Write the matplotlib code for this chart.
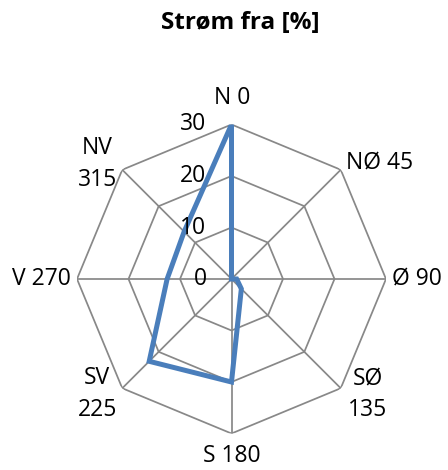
import numpy as np
import matplotlib
matplotlib.use("Agg")
import matplotlib.pyplot as plt

plt.rcParams['font.family'] = ['Open Sans', 'DejaVu Sans']

# ---- data ----
categories = ["N 0", "NØ 45", "Ø 90", "SØ\n135", "S 180", "SV\n225", "V 270", "NV\n315"]
values = [30, 0, 1, 2.7, 20, 22.6, 12.5, 13]
rings = [0, 10, 20, 30]
ring_labels = ["0", "10", "20", "30"]
title = "Strøm fra [%]"

BLUE = "#4A7EBB"
GRID = "#888888"

W, H = 448, 470
DPI = 100
fig = plt.figure(figsize=(W / DPI, H / DPI), dpi=DPI)

cx, cy, R = 231.5, 470 - 279, 154.5
ax = fig.add_axes([(cx - R) / W, (cy - R) / H, 2 * R / W, 2 * R / H], projection="polar")
ax.set_theta_zero_location("N")
ax.set_theta_direction(-1)
ax.set_ylim(0, rings[-1])
ax.grid(False)
ax.set_xticks([])
ax.set_yticks([])
ax.spines["polar"].set_visible(False)
ax.patch.set_visible(False)

n = len(categories)
theta = np.arange(n) * 2 * np.pi / n
theta_closed = np.append(theta, theta[0])

# octagon rings
for r in rings[1:]:
    ax.plot(theta_closed, [r] * (n + 1), color=GRID, lw=1.25, solid_joinstyle="miter", zorder=1)
# spokes
for t in theta:
    ax.plot([t, t], [0, rings[-1]], color=GRID, lw=1.25, zorder=1)

# data series
ax.plot(theta_closed, values + [values[0]], color=BLUE, lw=3.6, solid_joinstyle="miter", zorder=3)

fs = 16.5
px = 72.0 / DPI
offsets = [(1, 27, "center"), (5, 7, "left"), (6, 0, "left"), (27, -6, "center"),
           (0, -23, "center"), (-25, -6, "center"), (-6, 0, "right"), (-25, 6, "center")]
for t, lab, (dx, dy, ha) in zip(theta, categories, offsets):
    ax.annotate(lab, xy=(t, rings[-1]), xytext=(dx * px, dy * px), textcoords="offset points",
                ha=ha, va="center", multialignment="center", fontsize=fs,
                linespacing=1.45, annotation_clip=False)

for r, lab in zip(rings, ring_labels):
    ax.annotate(lab, xy=(0, r), xytext=(-25 * px, 0), textcoords="offset points",
                ha="right", va="center", fontsize=fs, annotation_clip=False)

fig.text(240.5 / W, 1 - 23 / H, title, ha="center", va="center", fontsize=17.5, fontweight="bold")

fig.savefig("out.png", dpi=DPI)
